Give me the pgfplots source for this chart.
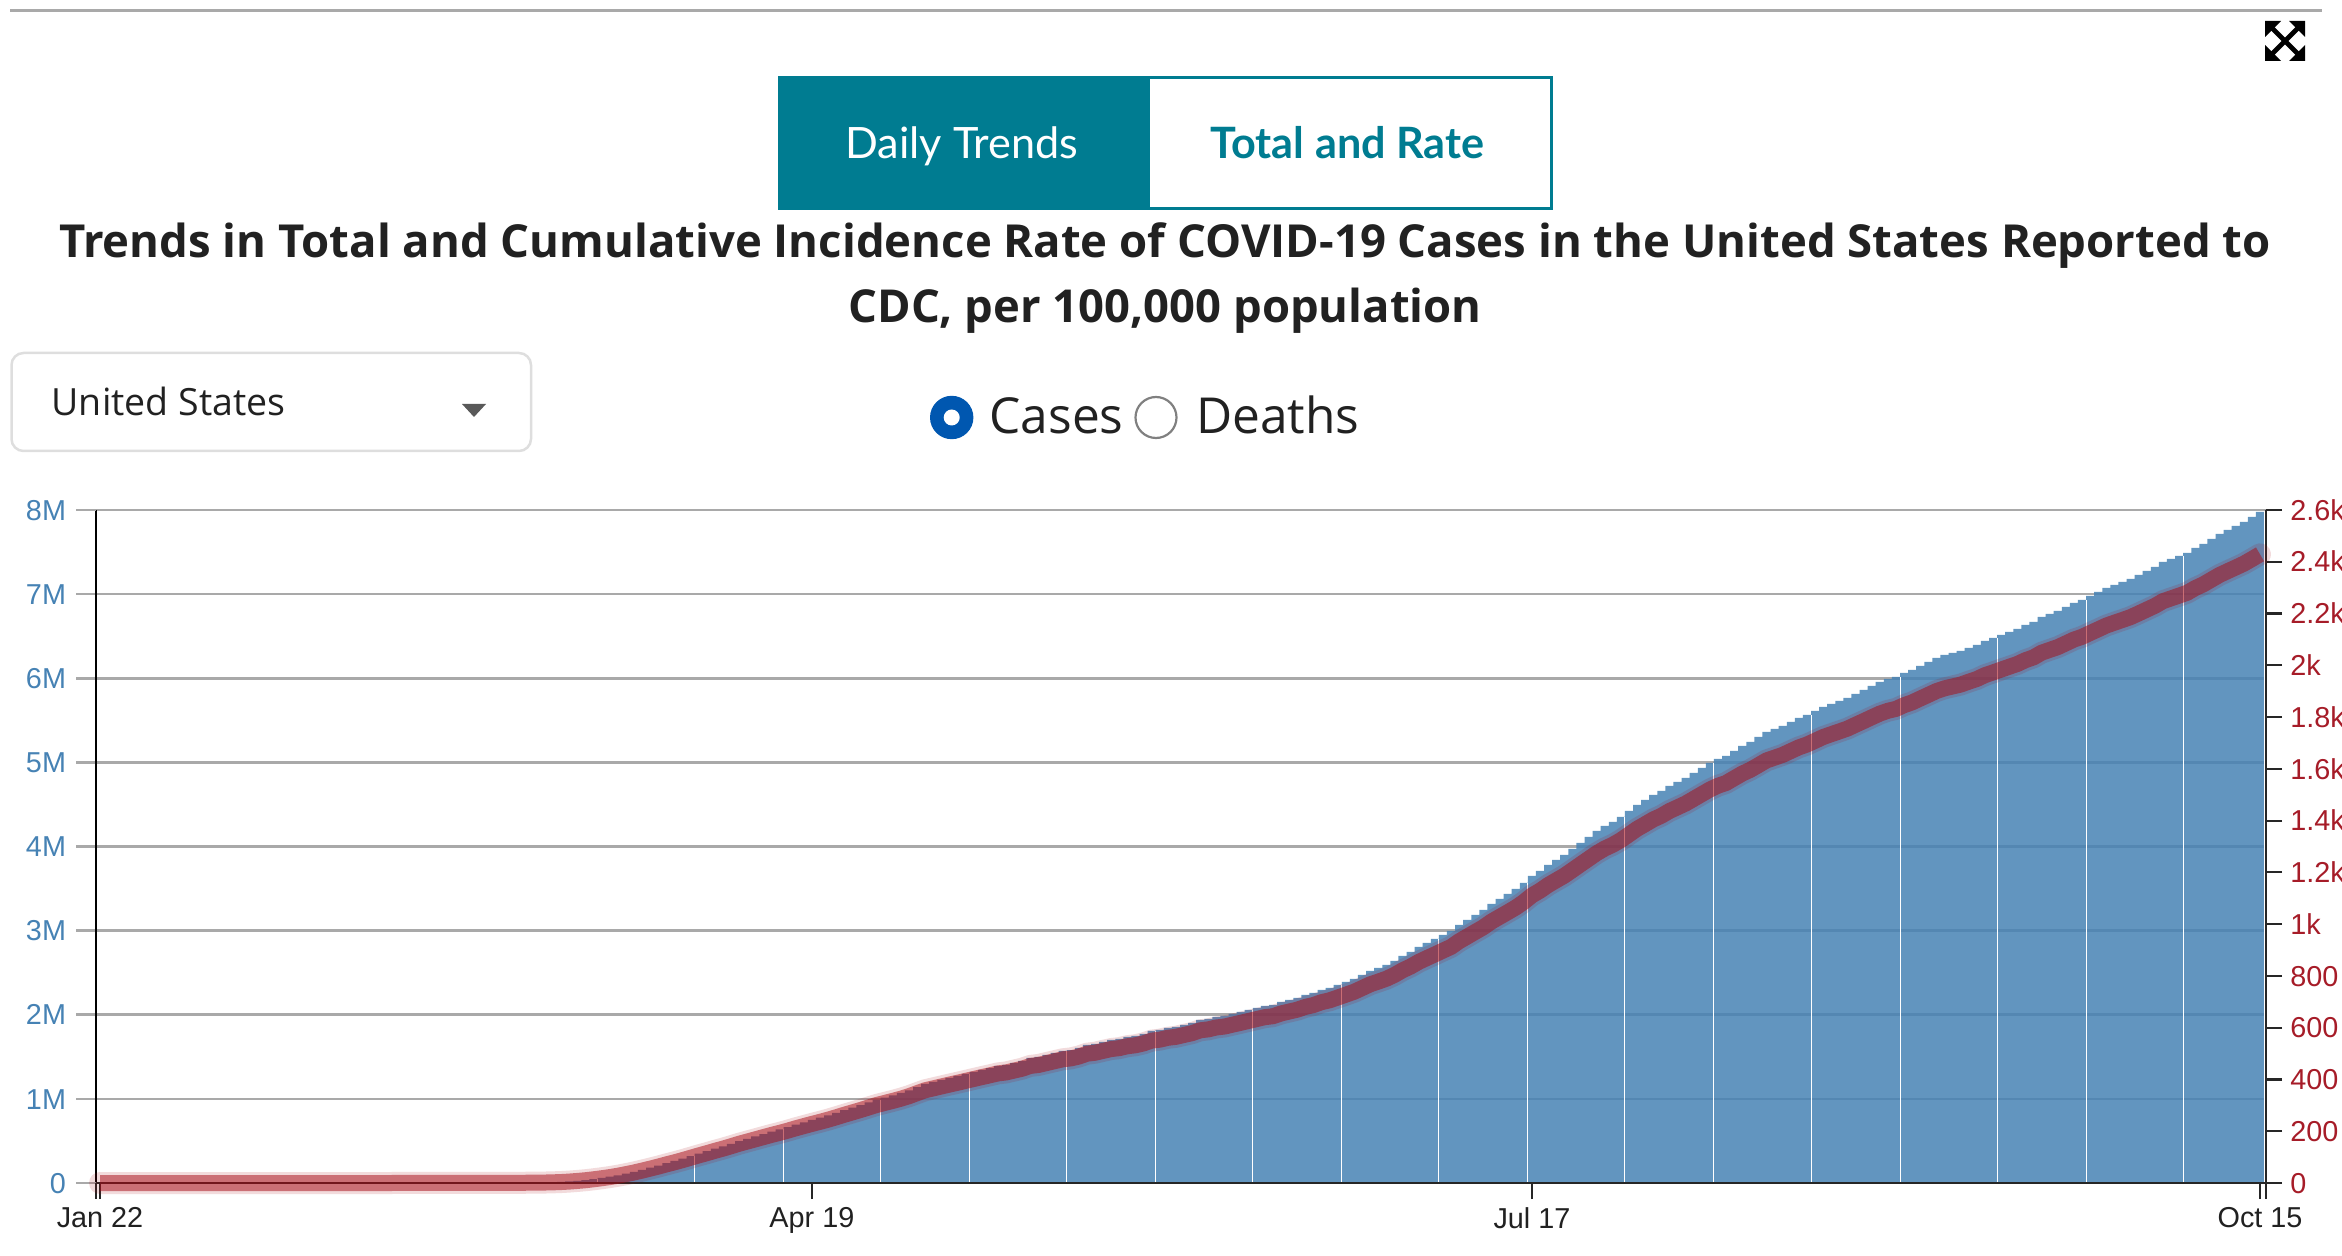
\documentclass[border=0pt]{standalone}
\usepackage{pgfplots}
\usepackage{pgfplotstable}
\usepackage{fontspec}
\pgfplotsset{compat=1.18}
\setmainfont{Liberation Sans}
\newfontfamily\opensans{Open Sans}
\newfontfamily\lato{Lato}
\definecolor{teal0}{HTML}{007C91}
\definecolor{gridg}{HTML}{A9A9A9}
\definecolor{barb}{HTML}{4682B4}
\definecolor{redl}{HTML}{A80C16}
\definecolor{redt}{HTML}{A61C28}
\definecolor{ink}{HTML}{212121}
\definecolor{radioblue}{HTML}{0057B0}
\pgfplotstableread{
i M R
0 0 0
1 0 0
2 0 0
3 0 0
4 0 0
5 0 0
6 0 0
7 0 0
8 0 0
9 0 0
10 0 0
11 0 0
12 0 0
13 0 0
14 0 0
15 0 0
16 0 0
17 0 0
18 0 0
19 0 0
20 0 0
21 0 0
22 0 0
23 0 0
24 0 0
25 0 0
26 0 0
27 0 0
28 0 0
29 0 0
30 0 0
31 0.00002 0.01
32 0.00002 0.01
33 0.00002 0.01
34 0.00002 0.01
35 0.00003 0.01
36 0.00003 0.01
37 0.00005 0.02
38 0.00007 0.02
39 0.00008 0.02
40 0.0001 0.03
41 0.0001 0.03
42 0.0002 0.06
43 0.0002 0.06
44 0.0003 0.09
45 0.0004 0.12
46 0.0005 0.15
47 0.0006 0.18
48 0.0008 0.24
49 0.0011 0.33
50 0.0015 0.46
51 0.0020 0.61
52 0.0027 0.82
53 0.0035 1.07
54 0.0045 1.37
55 0.0060 1.83
56 0.0085 2.59
57 0.012 3.7
58 0.018 5.5
59 0.026 7.9
60 0.035 10.7
61 0.047 14.3
62 0.060 18.3
63 0.075 22.8
64 0.092 28.0
65 0.112 34.1
66 0.133 40.5
67 0.157 47.8
68 0.182 55.4
69 0.208 63.3
70 0.236 71.8
71 0.262 79.8
72 0.290 88.3
73 0.320 97.4
74 0.350 106.5
75 0.378 115.1
76 0.408 124.2
77 0.436 132.7
78 0.466 141.9
79 0.498 151.6
80 0.526 160.1
81 0.554 168.6
82 0.582 177.2
83 0.610 185.7
84 0.636 193.6
85 0.664 202.1
86 0.694 211.3
87 0.722 219.8
88 0.750 228.3
89 0.776 236.2
90 0.804 244.7
91 0.834 253.9
92 0.866 263.6
93 0.896 272.7
94 0.926 281.9
95 0.958 291.6
96 0.990 301.4
97 1.016 309.3
98 1.042 317.2
99 1.070 325.7
100 1.102 335.4
101 1.140 347.0
102 1.177 358.3
103 1.201 365.6
104 1.225 372.9
105 1.249 380.2
106 1.272 387.2
107 1.296 394.5
108 1.320 401.8
109 1.344 409.1
110 1.367 416.1
111 1.391 423.4
112 1.403 427.1
113 1.427 434.4
114 1.451 441.7
115 1.486 452.3
116 1.498 456.0
117 1.522 463.3
118 1.546 470.6
119 1.570 477.9
120 1.581 481.3
121 1.605 488.6
122 1.641 499.5
123 1.653 503.2
124 1.677 510.5
125 1.700 517.5
126 1.712 521.1
127 1.736 528.4
128 1.748 532.1
129 1.772 539.4
130 1.807 550.1
131 1.819 553.7
132 1.843 561.0
133 1.855 564.7
134 1.879 572.0
135 1.902 579.0
136 1.938 589.9
137 1.950 593.6
138 1.974 600.9
139 1.986 604.5
140 2.010 611.8
141 2.033 618.8
142 2.057 626.2
143 2.081 633.5
144 2.105 640.8
145 2.117 644.4
146 2.152 655.1
147 2.176 662.4
148 2.200 669.7
149 2.235 680.3
150 2.259 687.6
151 2.295 698.6
152 2.319 705.9
153 2.354 716.6
154 2.390 727.5
155 2.426 738.5
156 2.473 752.8
157 2.521 767.4
158 2.556 778.0
159 2.592 789.0
160 2.640 803.6
161 2.699 821.6
162 2.747 836.2
163 2.806 854.1
164 2.854 868.8
165 2.901 883.1
166 2.949 897.7
167 2.996 912.0
168 3.068 933.9
169 3.127 951.9
170 3.187 970.1
171 3.246 988.1
172 3.318 1010.0
173 3.377 1028.0
174 3.436 1045.9
175 3.496 1064.2
176 3.567 1085.8
177 3.650 1111.1
178 3.710 1129.3
179 3.781 1150.9
180 3.841 1169.2
181 3.900 1187.2
182 3.971 1208.8
183 4.043 1230.7
184 4.114 1252.3
185 4.185 1273.9
186 4.245 1292.2
187 4.293 1306.8
188 4.352 1324.7
189 4.423 1346.4
190 4.495 1368.3
191 4.554 1386.2
192 4.614 1404.5
193 4.661 1418.8
194 4.721 1437.1
195 4.768 1451.4
196 4.816 1466.0
197 4.875 1484.0
198 4.935 1502.2
199 4.994 1520.2
200 5.042 1534.8
201 5.077 1545.4
202 5.137 1563.7
203 5.196 1581.7
204 5.244 1596.3
205 5.303 1614.2
206 5.363 1632.5
207 5.398 1643.2
208 5.434 1654.1
209 5.482 1668.7
210 5.529 1683.0
211 5.565 1694.0
212 5.612 1708.3
213 5.660 1722.9
214 5.696 1733.9
215 5.731 1744.5
216 5.767 1755.5
217 5.815 1770.1
218 5.862 1784.4
219 5.910 1799.0
220 5.957 1813.3
221 5.993 1824.3
222 6.017 1831.6
223 6.064 1845.9
224 6.100 1856.8
225 6.148 1871.5
226 6.195 1885.8
227 6.243 1900.4
228 6.278 1911.0
229 6.302 1918.3
230 6.326 1925.6
231 6.362 1936.6
232 6.397 1947.2
233 6.445 1961.9
234 6.480 1972.5
235 6.516 1983.5
236 6.552 1994.4
237 6.587 2005.1
238 6.635 2019.7
239 6.671 2030.7
240 6.730 2048.6
241 6.766 2059.6
242 6.801 2070.2
243 6.849 2084.8
244 6.897 2099.4
245 6.932 2110.1
246 6.980 2124.7
247 7.027 2139.0
248 7.075 2153.6
249 7.111 2164.6
250 7.146 2175.2
251 7.182 2186.2
252 7.229 2200.5
253 7.277 2215.1
254 7.325 2229.7
255 7.384 2247.7
256 7.420 2258.6
257 7.455 2269.3
258 7.491 2280.3
259 7.551 2298.5
260 7.598 2312.8
261 7.658 2331.1
262 7.717 2349.1
263 7.765 2363.7
264 7.812 2378.0
265 7.860 2392.6
266 7.919 2410.5
267 7.979 2428.8
}\covid
\pgfplotstableread{
k h
61.5 0.047
73.5 0.320
84.5 0.636
96.5 0.990
107.5 1.296
119.5 1.570
130.5 1.807
142.5 2.057
153.5 2.354
165.5 2.901
176.5 3.567
188.5 4.352
199.5 4.994
211.5 5.565
222.5 6.017
234.5 6.480
245.5 6.932
257.5 7.455
267.5 7.979
}\gaps
\begin{document}
\begin{tikzpicture}
\path[use as bounding box, clip] (0,0) rectangle (1171pt,627.5pt);
\begin{axis}[
  at={(48.2pt,36pt)}, anchor=south west,
  scale only axis, width=1084.8pt, height=336.5pt,
  xmin=-0.445, xmax=267.74, ymin=0, ymax=8,
  axis x line=bottom, axis y line=left,
  axis line style={-, black},
  x axis line style={line width=1.1pt},
  y axis line style={line width=1pt},
  tick align=outside,
  major tick length=10pt,
  xtick=\empty,
  ytick={0,1,2,3,4,5,6,7,8},
  yticklabels={0,1M,2M,3M,4M,5M,6M,7M,8M},
  ytick style={line width=1.35pt, gridg},
  yticklabel style={inner sep=0pt, xshift=-5pt, anchor=base east, yshift=-5.1pt, text=barb, font=\fontsize{14.4pt}{16pt}\selectfont},
  ymajorgrids, grid style={line width=1.35pt, gridg},
  extra y ticks={0,8},
  extra y tick labels={},
  extra y tick style={grid=none, tick style={line width=1.1pt, black}},
]
\addplot[ybar, bar width=4.045pt, bar shift=0pt, draw=none, fill=barb, fill opacity=0.85] table[x=i,y=M] {\covid};
\addplot[ycomb, white, line width=0.5pt, mark=none] table[x=k,y=h] {\gaps};
\end{axis}
\begin{axis}[
  at={(48.2pt,36pt)}, anchor=south west,
  scale only axis, width=1084.8pt, height=336.5pt,
  xmin=-0.445, xmax=267.74, ymin=0, ymax=2600,
  axis x line=bottom, axis y line=right,
  axis line style={-, black!85},
  x axis line style={line width=1.1pt},
  y axis line style={line width=1.1pt},
  tick align=outside,
  major tick length=8pt,
  xtick={-0.445,0,88,177,267,267.74},
  xticklabels={,Jan 22,Apr 19,Jul 17,Oct 15,},
  xtick style={line width=1pt, black!85},
  xticklabel style={inner sep=0pt, yshift=-4pt, text=ink, font=\fontsize{14.4pt}{16pt}\selectfont},
  ytick={0,200,400,600,800,1000,1200,1400,1600,1800,2000,2200,2400,2600},
  yticklabels={0,200,400,600,800,1k,1.2k,1.4k,1.6k,1.8k,2k,2.2k,2.4k,2.6k},
  ytick style={line width=1.1pt, black!85},
  yticklabel style={inner sep=0pt, xshift=4pt, anchor=base west, yshift=-5.1pt, text=redt, font=\fontsize{14.4pt}{16pt}\selectfont},
  clip=false,
]
\addplot[redl, line width=11pt, draw opacity=0.15, line cap=round, line join=round, mark=none] table[x=i,y=R] {\covid};
\addplot[redl, line width=8pt, draw opacity=0.52, line cap=butt, line join=round, mark=none] table[x=i,y=R] {\covid};
\end{axis}
\begin{scope}[x=0.5pt,y=-0.5pt,shift={(0pt,627.5pt)}]
  % top rule
  \fill[gridg] (10,9) rectangle (2322,12);
  % tabs
  \fill[teal0] (778,76) rectangle (1148,210);
  \draw[teal0, line width=1.5pt] (1148,77.5) rectangle (1551,208.5);
  \node[anchor=base, inner sep=0pt, text=white] at (962,159) {\lato\fontsize{21.6pt}{24pt}\selectfont Daily Trends};
  \node[anchor=base, inner sep=0pt, text=teal0] at (1347.5,159) {\lato\bfseries\fontsize{21.6pt}{24pt}\selectfont Total and Rate};
  % title
  \node[anchor=base, inner sep=0pt, text=ink] at (1165,258) {\opensans\bfseries\fontsize{22.75pt}{26pt}\selectfont Trends in Total and Cumulative Incidence Rate of COVID-19 Cases in the United States Reported to};
  \node[anchor=base, inner sep=0pt, text=ink] at (1165,322.5) {\opensans\bfseries\fontsize{22.7pt}{26pt}\selectfont CDC, per 100,000 population};
  % dropdown
  \draw[black!13, line width=1.25pt, rounded corners=6pt] (11.5,353) rectangle (531,451);
  \node[anchor=base, inner sep=0pt, text=ink] at (168.5,416) {\opensans\fontsize{18.75pt}{22pt}\selectfont United States};
  \fill[black!65] (462,404) -- (486,404) -- (474,417) -- cycle;
  % radio buttons
  \fill[radioblue] (951.7,417.5) circle (21.7);
  \fill[white] (951.7,417.5) circle (8);
  \draw[black!50, line width=1.1pt] (1156,417.5) circle (20.5);
  \node[anchor=base, inner sep=0pt, text=ink] at (1056.6,433.5) {\opensans\fontsize{24.8pt}{28pt}\selectfont Cases};
  \node[anchor=base, inner sep=0pt, text=ink] at (1278,433.5) {\opensans\fontsize{24.8pt}{28pt}\selectfont Deaths};
  % expand icon
  \draw[black, line width=2.4pt] (2270,26) -- (2300,56) (2300,26) -- (2270,56);
  \fill[black] (2265,21) -- (2281,21) -- (2265,37) -- cycle;
  \fill[black] (2305,21) -- (2289,21) -- (2305,37) -- cycle;
  \fill[black] (2265,61) -- (2281,61) -- (2265,45) -- cycle;
  \fill[black] (2305,61) -- (2289,61) -- (2305,45) -- cycle;
\end{scope}
\end{tikzpicture}
\end{document}
